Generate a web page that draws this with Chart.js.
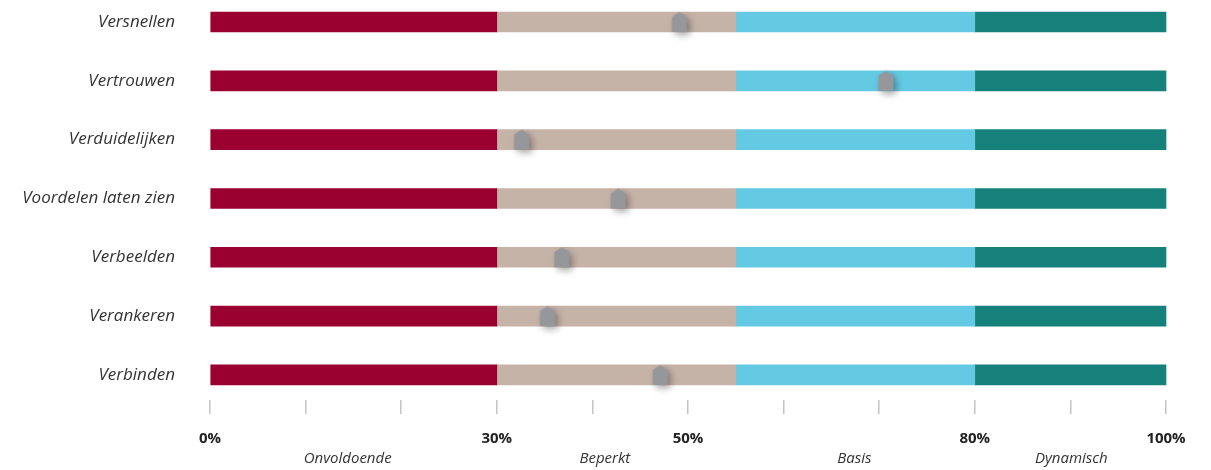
<!DOCTYPE html>
<html>
<head>
<meta charset="utf-8">
<script src="https://cdn.jsdelivr.net/npm/chart.js@4/dist/chart.umd.min.js"></script>
<style>
  html, body { margin: 0; padding: 0; background: #fff; }
  #wrap { width: 1211px; height: 470px; position: relative; }
</style>
</head>
<body>
<div id="wrap"><canvas id="chart"></canvas></div>
<script>
// rows, top to bottom
var categories = ['Versnellen', 'Vertrouwen', 'Verduidelijken', 'Voordelen laten zien', 'Verbeelden', 'Verankeren', 'Verbinden'];
// level bands (width of each band, in %)
var bandNames = ['Onvoldoende', 'Beperkt', 'Basis', 'Dynamisch'];
var bandWidths = [30, 25, 25, 20];
var bandColors = ['#9a0030', '#c6b3a8', '#64c9e3', '#16807b'];
// score marker per row (%)
var scores = [49.1, 70.7, 32.6, 42.7, 36.8, 35.3, 47.1];
// tick labels along the bottom
var labelledTicks = [0, 30, 50, 80, 100];
var bandLabelPos = [14.4, 41.3, 67.4, 90.1];

// house-shaped marker with soft shadow
function makeMarker() {
  var c = document.createElement('canvas');
  c.width = 44; c.height = 44;
  var g = c.getContext('2d');
  g.shadowColor = 'rgba(0,0,0,0.35)';
  g.shadowBlur = 7;
  g.shadowOffsetX = 3;
  g.shadowOffsetY = 3;
  g.fillStyle = '#95979b';
  g.lineJoin = 'round';
  var l = 14.5, r = 29.5, t = 12, s = 17, b = 32;
  g.beginPath();
  g.moveTo(22, t);
  g.lineTo(r, s);
  g.lineTo(r, b);
  g.lineTo(l, b);
  g.lineTo(l, s);
  g.closePath();
  g.fill();
  return c;
}

var datasets = bandWidths.map(function (w, k) {
  return {
    type: 'bar',
    label: bandNames[k],
    data: categories.map(function (c, i) { return { x: w, y: i }; }),
    backgroundColor: bandColors[k],
    borderWidth: 0,
    barThickness: 20,
    stack: 'bands',
    order: 1,
    clip: false
  };
});

datasets.push({
  type: 'scatter',
  label: 'Score',
  data: scores.map(function (v, i) { return { x: v, y: i }; }),
  pointStyle: makeMarker(),
  pointRadius: 10,
  order: 0,
  clip: false
});

new Chart(document.getElementById('chart').getContext('2d'), {
  type: 'bar',
  data: { datasets: datasets },
  options: {
    indexAxis: 'y',
    responsive: true,
    maintainAspectRatio: false,
    animation: false,
    events: [],
    layout: { autoPadding: false, padding: { top: 0, right: 45, bottom: 0, left: 0 } },
    plugins: { legend: { display: false }, tooltip: { enabled: false } },
    scales: {
      y: {
        type: 'linear',
        reverse: true,
        stacked: true,
        offset: false,
        min: -0.374,
        max: 6.426,
        afterFit: function (scale) {
          scale.width = 210;
          scale.paddingTop = 0;
          scale.paddingBottom = 0;
        },
        afterBuildTicks: function (scale) {
          scale.ticks = categories.map(function (c, i) { return { value: i }; });
        },
        ticks: {
          padding: 35,
          color: '#333',
          font: { family: 'Open Sans', size: 17, style: 'italic' },
          callback: function (v) { return categories[v]; }
        },
        grid: { display: false, drawTicks: false },
        border: { display: false }
      },
      x: {
        type: 'linear',
        position: 'bottom',
        stacked: true,
        offset: false,
        min: 0,
        max: 100,
        weight: 0,
        afterFit: function (scale) { scale.height = 50; },
        ticks: {
          stepSize: 10,
          padding: 16,
          autoSkip: false,
          maxRotation: 0,
          color: '#222',
          font: { family: 'Open Sans', size: 15, weight: 'bold' },
          callback: function (v) { return labelledTicks.indexOf(v) >= 0 ? v + '%' : ''; }
        },
        grid: { drawOnChartArea: false, drawTicks: true, tickLength: 14, color: '#c4c4c4', lineWidth: 1.5 },
        border: { display: false }
      },
      x2: {
        type: 'linear',
        position: 'bottom',
        min: 0,
        max: 100,
        weight: 1,
        afterFit: function (scale) { scale.height = 20; },
        afterBuildTicks: function (scale) {
          scale.ticks = bandLabelPos.map(function (v) { return { value: v }; });
        },
        ticks: {
          padding: 0,
          autoSkip: false,
          maxRotation: 0,
          color: '#333',
          font: { family: 'Open Sans', size: 15, style: 'italic' },
          callback: function (v) { return bandNames[bandLabelPos.indexOf(v)]; }
        },
        grid: { display: false, drawTicks: false },
        border: { display: false }
      }
    }
  }
});
</script>
</body>
</html>
